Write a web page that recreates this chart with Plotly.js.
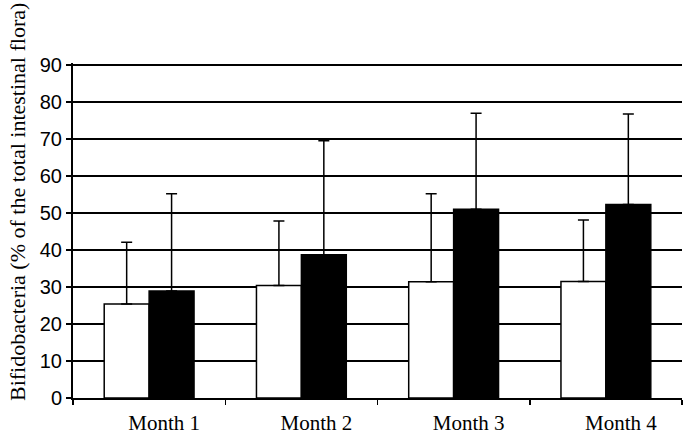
<!DOCTYPE html>
<html>
<head>
<meta charset="utf-8">
<script src="https://cdn.plot.ly/plotly-3.0.1.min.js"></script>
<style>html,body{margin:0;padding:0;background:#fff;}#chart{width:685px;height:436px;}</style>
</head>
<body>
<div id="chart"></div>
<script>
const categories = ["Month 1", "Month 2", "Month 3", "Month 4"];
const whiteValues = [25.4, 30.4, 31.4, 31.5];
const whiteErrorTop = [42.1, 47.8, 55.2, 48.1];
const blackValues = [28.9, 38.7, 51.0, 52.3];
const blackErrorTop = [55.2, 69.5, 76.9, 76.7];
const yTicks = [0, 10, 20, 30, 40, 50, 60, 70, 80, 90];
const yTitle = "Bifidobacteria (% of the total intestinal flora)";

function diffs(tops, vals) { return tops.map((t, i) => t - vals[i]); }

const errStyle = {color: "#000", thickness: 1.5, width: 5.5};

const traces = [
  {
    type: "bar", x: categories, y: whiteValues, name: "white",
    marker: {color: "#fff", line: {color: "#000", width: 1.5}},
    error_y: Object.assign({type: "data", symmetric: false, array: diffs(whiteErrorTop, whiteValues), arrayminus: whiteValues.map(() => 0)}, errStyle)
  },
  {
    type: "bar", x: categories, y: blackValues, name: "black",
    marker: {color: "#000", line: {color: "#000", width: 1.5}},
    error_y: Object.assign({type: "data", symmetric: false, array: diffs(blackErrorTop, blackValues), arrayminus: blackValues.map(() => 0)}, errStyle)
  }
];

const layout = {
  width: 685, height: 436,
  margin: {l: 73, r: 3, t: 63, b: 38},
  paper_bgcolor: "#fff", plot_bgcolor: "#fff",
  showlegend: false,
  barmode: "group", bargap: 0.41, bargroupgap: 0,
  xaxis: {
    type: "category",
    showline: true, linecolor: "#000", linewidth: 2,
    ticks: "outside", tickson: "boundaries", ticklen: 5, tickcolor: "#000", tickwidth: 1.5,
    showgrid: false, ticklabelstandoff: 5, ticklabelshift: 15,
    tickfont: {family: "'Liberation Serif', 'Times New Roman', serif", size: 21, color: "#000"}
  },
  yaxis: {
    range: [0, 90.5], tickvals: yTicks,
    showline: true, linecolor: "#000", linewidth: 2,
    ticks: "outside", ticklen: 5, tickcolor: "#000", tickwidth: 1.5,
    showgrid: true, gridcolor: "#000", gridwidth: 2,
    zeroline: false,
    tickfont: {family: "'Liberation Sans', Arial, sans-serif", size: 20, color: "#000"}
  },
  annotations: [{
    text: yTitle, xref: "paper", yref: "paper",
    x: -0.092, y: 0.585, xanchor: "center", yanchor: "middle",
    textangle: -90, showarrow: false,
    font: {family: "'Liberation Serif', 'Times New Roman', serif", size: 22, color: "#000"}
  }]
};

Plotly.newPlot("chart", traces, layout, {displayModeBar: false, staticPlot: true});
</script>
</body>
</html>
